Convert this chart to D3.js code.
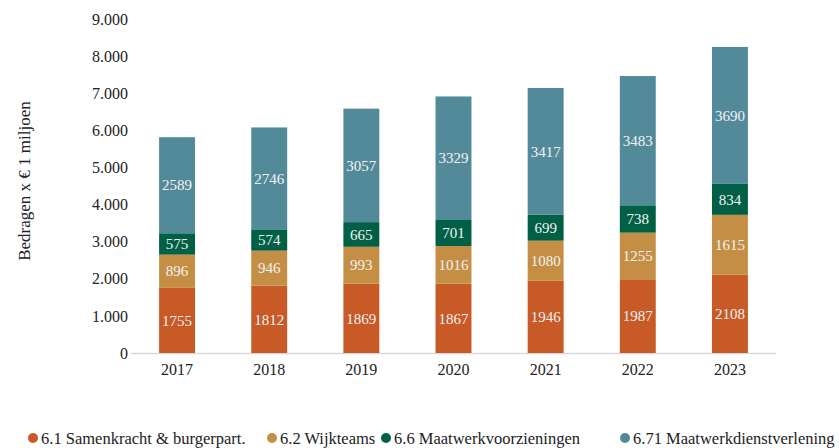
<!DOCTYPE html>
<html><head><meta charset="utf-8">
<script src="https://cdn.jsdelivr.net/npm/d3@7"></script>
<style>body{margin:0;background:#fff}</style>
</head><body><svg id="c" width="839" height="448"></svg>
<script>
const years = ["2017","2018","2019","2020","2021","2022","2023"];
const seriesNames = ["6.1 Samenkracht & burgerpart.","6.2 Wijkteams","6.6 Maatwerkvoorzieningen","6.71 Maatwerkdienstverlening"];
const samenkracht = [1755,1812,1869,1867,1946,1987,2108];
const wijkteams = [896,946,993,1016,1080,1255,1615];
const maatwerkvoorz = [575,574,665,701,699,738,834];
const maatwerkdienst = [2589,2746,3057,3329,3417,3483,3690];
const yTicks = [0,1000,2000,3000,4000,5000,6000,7000,8000,9000];
const colors = ["#C85A27","#C48F45","#006045","#528A9A"];

const serif = "'Liberation Serif', 'DejaVu Serif', serif";
const svg = d3.select("#c");
const x = d3.scaleBand().domain(years).range([131,776]).paddingInner(0.61).paddingOuter(0.305);
const y = d3.scaleLinear().domain([0,9000]).range([353,19]);

const seriesVals = [samenkracht,wijkteams,maatwerkvoorz,maatwerkdienst];
const rows = years.map((yr,i)=>{const o={year:yr}; seriesNames.forEach((s,j)=>o[s]=seriesVals[j][i]); return o;});
const stack = d3.stack().keys(seriesNames)(rows);

svg.append("line").attr("x1",131).attr("x2",776).attr("y1",y(0)+0.5).attr("y2",y(0)+0.5)
  .attr("stroke","#d9d9d9").attr("stroke-width",1.5);

const fmt = d3.formatLocale({decimal:",",thousands:".",grouping:[3],currency:["€",""]}).format(",");
const yAxis = svg.append("g").attr("transform","translate(131,0)")
  .call(d3.axisLeft(y).tickValues(yTicks).tickFormat(fmt).tickSize(0).tickPadding(3));
yAxis.select(".domain").remove();
yAxis.selectAll("text").attr("font-family",serif).attr("font-size",16).attr("fill","#222");

const xAxis = svg.append("g").attr("transform",`translate(0,${y(0)})`)
  .call(d3.axisBottom(x).tickSize(0).tickPadding(11));
xAxis.select(".domain").remove();
xAxis.selectAll("text").attr("font-family",serif).attr("font-size",16).attr("fill","#222");

const g = svg.append("g");
stack.forEach((layer,j)=>{
  g.selectAll(null).data(layer).enter().append("rect")
    .attr("x",d=>x(d.data.year)).attr("width",x.bandwidth())
    .attr("y",d=>y(d[1])).attr("height",d=>y(d[0])-y(d[1]))
    .attr("fill",colors[j]);
  g.selectAll(null).data(layer).enter().append("text")
    .attr("x",d=>x(d.data.year)+x.bandwidth()/2)
    .attr("y",d=>(y(d[0])+y(d[1]))/2)
    .attr("dy","0.35em").attr("text-anchor","middle")
    .attr("font-family",serif).attr("font-size",15).attr("fill","#f2f2f2")
    .text(d=>d[1]-d[0]);
});

svg.append("text").attr("transform","translate(30,181) rotate(-90)")
  .attr("text-anchor","middle").attr("font-family",serif).attr("font-size",17).attr("fill","#222")
  .text("Bedragen x € 1 miljoen");

const legX = [33,272,386,625];
seriesNames.forEach((s,j)=>{
  svg.append("circle").attr("cx",legX[j]).attr("cy",438).attr("r",5).attr("fill",colors[j]);
  svg.append("text").attr("x",legX[j]+8).attr("y",438).attr("dy","0.35em")
    .attr("font-family",serif).attr("font-size",16.5).attr("fill","#222").text(s);
});
</script></body></html>
